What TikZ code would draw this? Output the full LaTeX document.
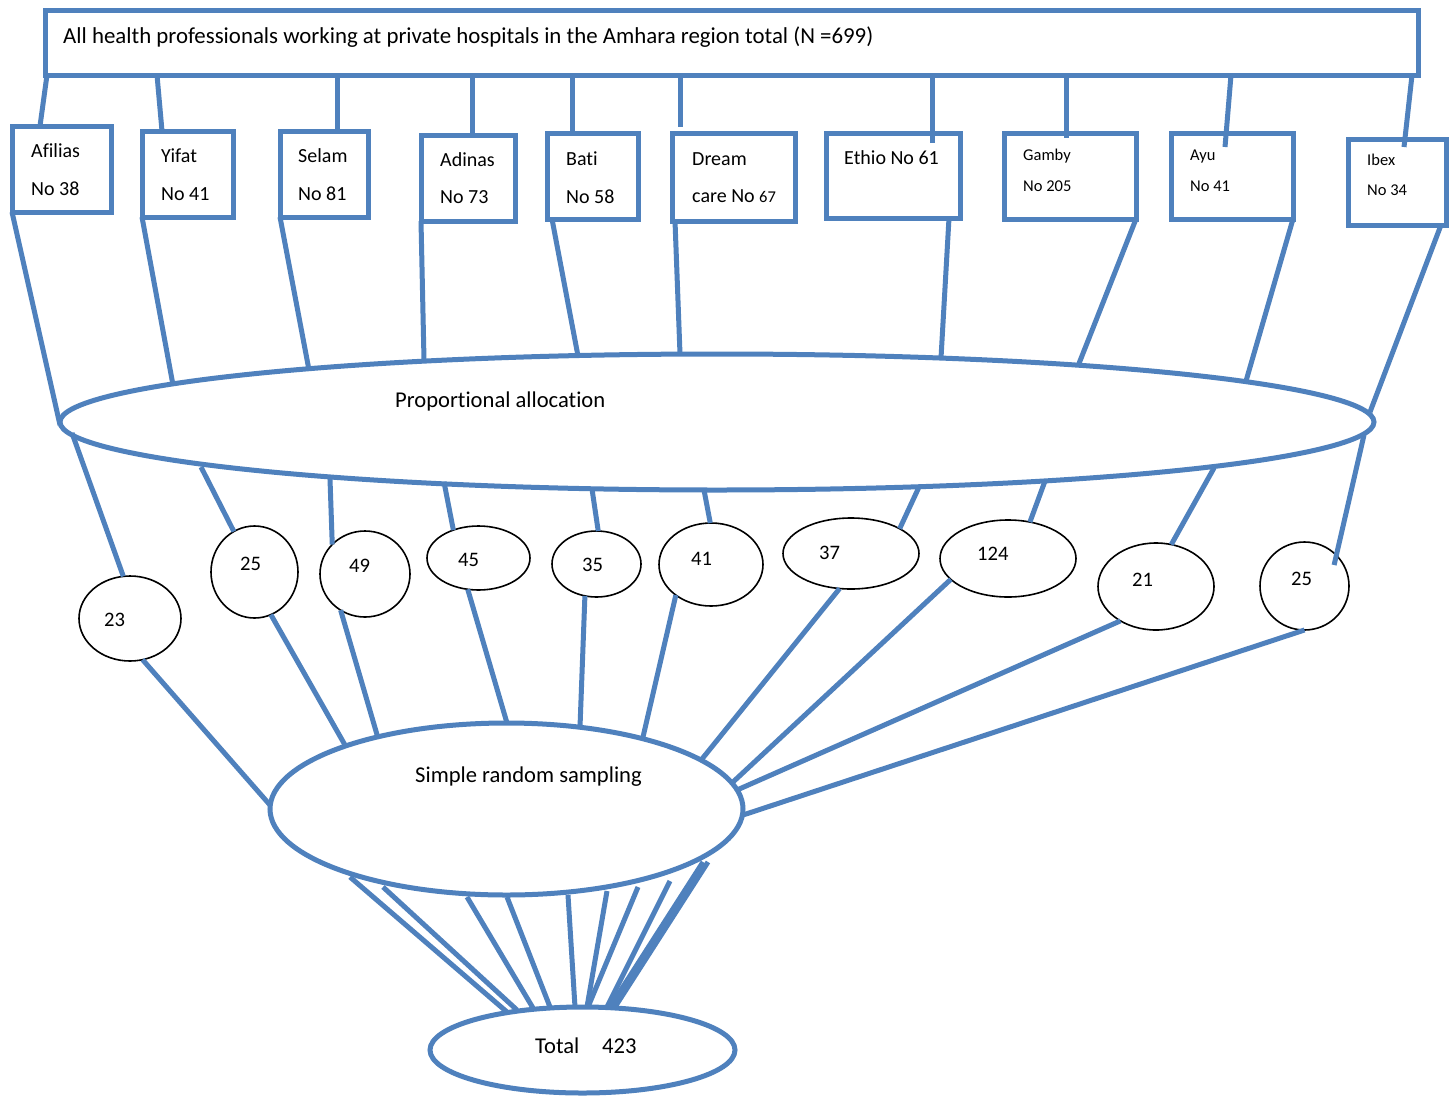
\documentclass[tikz,border=0pt]{standalone}
\usepackage{fontspec}
\setmainfont[Ligatures={NoCommon,NoRare,NoContextual}]{Carlito}
\usetikzlibrary{shapes.geometric,calc}
\definecolor{ofblue}{HTML}{4F81BD}
\begin{document}
\begin{tikzpicture}[x=1pt,y=-1pt,
  boxs/.style={rectangle, draw=ofblue, line width=5pt, outer sep=0pt, inner sep=0pt, anchor=north west},
  bigell/.style={ellipse, draw=ofblue, line width=5pt, outer sep=0pt, inner sep=0pt},
  numell/.style={ellipse, draw=black, line width=1.6pt, outer sep=0pt, inner sep=0pt},
  conn/.style={draw=ofblue, line width=5pt},
  txt/.style={anchor=base west, inner sep=0pt, font=\fontsize{20}{24}\selectfont},
  ntxt/.style={anchor=base west, inner sep=0pt, font=\fontsize{20.6}{24}\selectfont},
  btxt/.style={anchor=base west, inner sep=0pt, font=\fontsize{22.6}{27}\selectfont},
  stxt/.style={anchor=base west, inner sep=0pt, font=\fontsize{16.5}{20}\selectfont}]
\useasboundingbox (0,0) rectangle (1453,1095);
\fill[white] (0,0) rectangle (1453,1095);

% top box
\node[boxs, minimum width=1373pt, minimum height=65pt] (all) at (45,10) {};
\node[anchor=base west, inner sep=0pt, font=\fontsize{22.85}{27}\selectfont] (allT) at (63,43) {All health professionals working at private hospitals in the Amhara region total (N =699)};

% hospital boxes
\node[boxs, minimum width=99pt, minimum height=86pt] (afilias) at (12,126) {};
\node[boxs, minimum width=91pt, minimum height=86pt] (yifat) at (142,131) {};
\node[boxs, minimum width=88pt, minimum height=86pt] (selam) at (280,131) {};
\node[boxs, minimum width=94pt, minimum height=86pt] (adinas) at (421,135) {};
\node[boxs, minimum width=91pt, minimum height=86pt] (bati) at (547,133) {};
\node[boxs, minimum width=123pt, minimum height=88pt] (dream) at (672,133) {};
\node[boxs, minimum width=134pt, minimum height=85pt] (ethio) at (826,133) {};
\node[boxs, minimum width=132pt, minimum height=86pt] (gamby) at (1004,133) {};
\node[boxs, minimum width=122pt, minimum height=86pt] (ayu) at (1171,133) {};
\node[boxs, minimum width=98pt, minimum height=86pt] (ibex) at (1348,139) {};

\node[txt] (afiliasA) at (31,157) {Afilias};
\node[txt] (afiliasB) at (31,195) {No 38};
\node[txt] (yifatA) at (161,162) {Yifat};
\node[txt] (yifatB) at (161,200) {No 41};
\node[txt] (selamA) at (298,162) {Selam};
\node[txt] (selamB) at (298,200) {No 81};
\node[txt] (adinasA) at (440,166) {Adinas};
\node[txt] (adinasB) at (440,203) {No 73};
\node[txt] (batiA) at (566,165) {Bati};
\node[txt] (batiB) at (566,203) {No 58};
\node[txt] (dreamA) at (692,165) {Dream};
\node[txt] (dreamB) at (692,202) {care No {\fontsize{16.5}{20}\selectfont 67}};
\node[txt] (ethioA) at (844,164) {Ethio No 61};
\node[stxt] (gambyA) at (1023,160) {Gamby};
\node[stxt] (gambyB) at (1023,191) {No 205};
\node[stxt] (ayuA) at (1190,160) {Ayu};
\node[stxt] (ayuB) at (1190,191) {No 41};
\node[stxt] (ibexA) at (1367,165) {Ibex};
\node[stxt] (ibexB) at (1367,195) {No 34};

% top box to hospital boxes
\draw[conn] ([xshift=2pt]all.south west) -- ([xshift=28pt]afilias.north west);
\draw[conn] ([xshift=112pt]all.south west) -- ([xshift=20pt]yifat.north west);
\draw[conn] ([xshift=292pt]all.south west) -- ([xshift=57pt]selam.north west);
\draw[conn] ([xshift=427pt]all.south west) -- ([xshift=51pt]adinas.north west);
\draw[conn] ([xshift=527pt]all.south west) -- ([xshift=25pt]bati.north west);
\draw[conn] ([xshift=635pt]all.south west) -- ([xshift=8pt,yshift=6pt]dream.north west);
\draw[conn] ([xshift=887pt]all.south west) -- ([xshift=106pt,yshift=-10pt]ethio.north west);
\draw[conn] ([xshift=1021pt]all.south west) -- ([xshift=62pt,yshift=-5pt]gamby.north west);
\draw[conn] ([xshift=1186pt]all.south west) -- ([xshift=54pt,yshift=-14pt]ayu.north west);
\draw[conn] ([xshift=1367pt]all.south west) -- ([xshift=56pt,yshift=-8pt]ibex.north west);

% proportional allocation
\node[bigell, minimum width=1314pt, minimum height=136pt] (ppa) at (717,422) {};
\node[btxt] (ppaT) at (395,407) {Proportional allocation};

\draw[conn] (afilias.south west) -- ($(ppa.center)+(-657,3)$);
\draw[conn] (yifat.south west) -- ($(ppa.center)+(-544,-37)$);
\draw[conn] (selam.south west) -- ($(ppa.center)+(-408,-52)$);
\draw[conn] (adinas.south west) -- ($(ppa.center)+(-293,-62)$);
\draw[conn] ([xshift=5pt]bati.south west) -- ($(ppa.center)+(-139,-66)$);
\draw[conn] ([xshift=3pt]dream.south west) -- ($(ppa.center)+(-37,-68)$);
\draw[conn] ([xshift=-11pt]ethio.south east) -- ($(ppa.center)+(224,-64)$);
\draw[conn] (gamby.south east) -- ($(ppa.center)+(361,-56)$);
\draw[conn] (ayu.south east) -- ($(ppa.center)+(529,-41)$);
\draw[conn] ([xshift=-5pt]ibex.south east) -- ($(ppa.center)+(653,-10)$);

% number ellipses
\node[numell, minimum width=102pt, minimum height=85pt] (c23) at (130,618.5) {};
\node[numell, minimum width=87pt, minimum height=92pt] (c25) at (254.5,572) {};
\node[numell, minimum width=90pt, minimum height=86pt] (c49) at (365,574) {};
\node[numell, minimum width=103pt, minimum height=64pt] (c45) at (478.5,558) {};
\node[numell, minimum width=89pt, minimum height=66pt] (c35) at (596.5,564) {};
\node[numell, minimum width=104pt, minimum height=83pt] (c41) at (711,564.5) {};
\node[numell, minimum width=136pt, minimum height=71pt] (c37) at (851,553.5) {};
\node[numell, minimum width=136pt, minimum height=77pt] (c124) at (1008,558.5) {};
\node[numell, minimum width=116pt, minimum height=87pt] (c21) at (1156,586.5) {};
\node[numell, minimum width=89pt, minimum height=88pt] (c25b) at (1304.5,586) {};

\node[ntxt] (t23) at (104,626) {23};
\node[ntxt] (t25) at (240,570) {25};
\node[ntxt] (t49) at (349,572) {49};
\node[ntxt] (t45) at (458,566) {45};
\node[ntxt] (t35) at (582,571) {35};
\node[ntxt] (t41) at (691,565) {41};
\node[ntxt] (t37) at (819,559) {37};
\node[ntxt] (t124) at (977,560) {124};
\node[ntxt] (t21) at (1132,586) {21};
\node[ntxt] (t25b) at (1291,585) {25};

\draw[conn] ($(ppa.center)+(-645,11)$) -- (c23.99.1);
\draw[conn] ($(ppa.center)+(-516,45)$) -- (c25.117.1);
\draw[conn] ($(ppa.center)+(-387,57)$) -- (c49.138.5);
\draw[conn] ($(ppa.center)+(-273,60)$) -- (c45.132.8);
\draw[conn] ($(ppa.center)+(-125,67)$) -- (c35.87.4);
\draw[conn] ($(ppa.center)+(-13,68)$) -- (c41.91.7);
\draw[conn] ($(ppa.center)+(202,65)$) -- (c37.27);
\draw[conn] ($(ppa.center)+(328,59)$) -- (c124.59.9);
\draw[conn] ($(ppa.center)+(497,46)$) -- (c21.70.6);
\draw[conn, shorten >=-10pt] ($(ppa.center)+(647,13)$) -- (c25b.44.4);

% simple random sampling
\node[bigell, minimum width=473pt, minimum height=172pt] (srs) at (506.5,809) {};
\node[btxt] (srsT) at (415,782) {Simple random sampling};

\draw[conn] (c23.-73) -- ($(srs.center)+(-236.5,-4)$);
\draw[conn] (c25.-69.4) -- ($(srs.center)+(-161.5,-64)$);
\draw[conn] (c49.236.3) -- ($(srs.center)+(-128.5,-71)$);
\draw[conn] (c45.-109.2) -- ($(srs.center)+(0.5,-86)$);
\draw[conn] (c35.250.6) -- ($(srs.center)+(73.5,-82)$);
\draw[conn] (c41.221.7) -- ($(srs.center)+(136.5,-72)$);
\draw[conn] (c37.252.7) -- ($(srs.center)+(195.5,-50)$);
\draw[conn] (c124.200.3) -- ($(srs.center)+(226.5,-27)$);
\draw[conn] (c21.224.6) -- ($(srs.center)+(230.5,-19)$);
\draw[conn] (c25b.270.7) -- ($(srs.center)+(236.5,6)$);

% total
\node[bigell, minimum width=305pt, minimum height=86pt] (tot) at (582.5,1050) {};
\node[btxt] (totA) at (535,1053) {Total};
\node[btxt] (totB) at (602,1053) {423};

\draw[conn] ($(srs.center)+(-156.5,68)$) -- ($(tot.center)+(-75.5,-38)$);
\draw[conn] ($(srs.center)+(-123.5,78)$) -- ($(tot.center)+(-65.5,-40)$);
\draw[conn] ($(srs.center)+(-39.5,88)$) -- ($(tot.center)+(-49.5,-42)$);
\draw[conn] ($(srs.center)+(0.5,88)$) -- ($(tot.center)+(-32.5,-43)$);
\draw[conn] ($(srs.center)+(61.5,86)$) -- ($(tot.center)+(-7.5,-43)$);
\draw[conn] ($(srs.center)+(100.5,82)$) -- ($(tot.center)+(4.5,-43)$);
\draw[conn] ($(srs.center)+(131.5,78)$) -- ($(tot.center)+(5.5,-43)$);
\draw[conn] ($(srs.center)+(163.5,72)$) -- ($(tot.center)+(24.5,-43)$);
\draw[conn] ($(srs.center)+(196.5,53)$) -- ($(tot.center)+(27.5,-43)$);
\draw[conn] ($(srs.center)+(201.5,53)$) -- ($(tot.center)+(32.5,-43)$);
\end{tikzpicture}
\end{document}
